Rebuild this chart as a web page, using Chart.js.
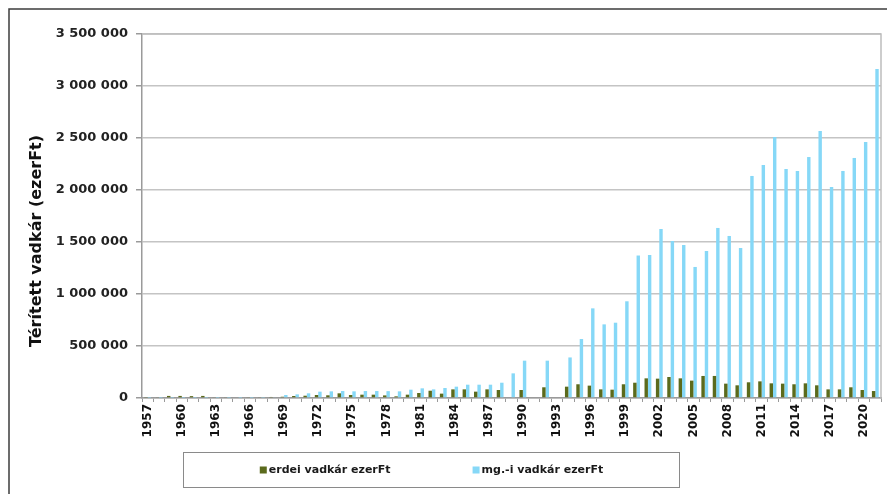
<!DOCTYPE html>
<html>
<head>
<meta charset="utf-8">
<script src="https://cdn.jsdelivr.net/npm/chart.js@4.4.0/dist/chart.umd.min.js"></script>
<style>
  html, body { margin: 0; padding: 0; background: #fff; }
  #wrap { width: 887px; height: 494px; position: relative; }
</style>
</head>
<body>
<div id="wrap"><canvas id="c" width="887" height="494"></canvas></div>
<script>
// Years on the category axis
const years = [
  '1957','1958','1959','1960','1961','1962','1963','1964','1965','1966',
  '1967','1968','1969','1970','1971','1972','1973','1974','1975','1976',
  '1977','1978','1979','1980','1981','1982','1983','1984','1985','1986',
  '1987','1988','1989','1990','1991','1992','1993','1994','1995','1996',
  '1997','1998','1999','2000','2001','2002','2003','2004','2005','2006',
  '2007','2008','2009','2010','2011','2012','2013','2014','2015','2016',
  '2017','2018','2019','2020','2021'
];

// Forest game damage paid (thousand Ft)
const erdeiVadkar = [
  5000, 8000, 20000, 20000, 18000, 20000, 8000, 8000, 7000, 8000,
  8000, 10000, 12000, 19000, 22000, 29000, 26000, 45000, 29000, 32000,
  32000, 25000, 16000, 32000, 48000, 70000, 42000, 83000, 83000, 61000,
  83000, 77000, null, 77000, null, 103000, null, 109000, 132000, 119000,
  83000, 80000, 132000, 147000, 189000, 186000, 202000, 189000, 167000, 212000,
  212000, 138000, 122000, 151000, 160000, 141000, 138000, 132000, 141000, 122000,
  83000, 83000, 103000, 77000, 67000
];

// Agricultural game damage paid (thousand Ft)
const mgVadkar = [
  3000, 3000, 3000, 3000, 3000, 3000, 3000, 3000, 3000, 3000,
  4000, 8000, 29000, 35000, 45000, 61000, 64000, 67000, 64000, 67000,
  67000, 66000, 64000, 80000, 93000, 83000, 96000, 109000, 128000, 128000,
  128000, 147000, 237000, 359000, null, 359000, null, 390000, 567000, 862000,
  708000, 724000, 930000, 1370000, 1375000, 1625000, 1510000, 1471000, 1260000, 1413000,
  1635000, 1558000, 1442000, 2135000, 2240000, 2510000, 2202000, 2183000, 2317000, 2567000,
  2029000, 2183000, 2308000, 2461000, 3163000
];

const seriesNames = ['erdei vadkár ezerFt', 'mg.-i vadkár ezerFt'];
const seriesColors = ['#5b6a1c', '#86d8f7'];
const yTitle = 'Térített vadkár (ezerFt)';

const FONT = "'DejaVu Sans', sans-serif";

function spaced(v) {
  return String(v).replace(/\B(?=(\d{3})+(?!\d))/g, ' ');
}

// Outer frame and the plot area's top/right edges
const framePlugin = {
  id: 'frame',
  afterDraw(chart) {
    const { ctx, chartArea } = chart;
    ctx.save();
    ctx.strokeStyle = '#3c3c3c';
    ctx.lineWidth = 1.5;
    ctx.beginPath();
    ctx.moveTo(9, 494);
    ctx.lineTo(9, 9);
    ctx.lineTo(887, 9);
    ctx.stroke();

    ctx.strokeStyle = '#bdbdbd';
    ctx.lineWidth = 1.5;
    ctx.beginPath();
    ctx.moveTo(chartArea.left, chartArea.top);
    ctx.lineTo(chartArea.right, chartArea.top);
    ctx.lineTo(chartArea.right, chartArea.bottom);
    ctx.stroke();
    ctx.restore();
  }
};

// Rotated y-axis title
const yTitlePlugin = {
  id: 'yTitle',
  afterDraw(chart) {
    const ctx = chart.ctx;
    ctx.save();
    ctx.translate(37, 241);
    ctx.rotate(-Math.PI / 2);
    ctx.font = `bold 16px ${FONT}`;
    ctx.fillStyle = '#111';
    ctx.textAlign = 'center';
    ctx.textBaseline = 'middle';
    ctx.fillText(yTitle, 0, 0);
    ctx.restore();
  }
};

// Boxed legend under the axis labels
const legendPlugin = {
  id: 'boxLegend',
  afterDraw(chart) {
    const ctx = chart.ctx;
    const box = { x: 183.5, y: 452.5, w: 496, h: 35 };
    ctx.save();
    ctx.strokeStyle = '#8a8a8a';
    ctx.lineWidth = 1;
    ctx.strokeRect(box.x, box.y, box.w, box.h);

    ctx.font = `bold 11px ${FONT}`;
    ctx.textBaseline = 'middle';
    ctx.textAlign = 'left';
    const mark = 7, markGap = 2, itemGap = 82;
    const ds = chart.data.datasets;
    const widths = ds.map(d => mark + markGap + ctx.measureText(d.label).width);
    const total = widths.reduce((a, b) => a + b, 0) + itemGap * (ds.length - 1);
    let x = box.x + box.w / 2 - total / 2;
    const cy = box.y + box.h / 2;
    ds.forEach((d, i) => {
      ctx.fillStyle = d.backgroundColor;
      ctx.fillRect(x, cy - mark / 2, mark, mark);
      ctx.fillStyle = '#1a1a1a';
      ctx.fillText(d.label, x + mark + markGap, cy);
      x += widths[i] + itemGap;
    });
    ctx.restore();
  }
};

new Chart(document.getElementById('c'), {
  type: 'bar',
  data: {
    labels: years,
    datasets: [
      { label: seriesNames[0], data: erdeiVadkar, backgroundColor: seriesColors[0],
        barPercentage: 1, categoryPercentage: 0.6 },
      { label: seriesNames[1], data: mgVadkar, backgroundColor: seriesColors[1],
        barPercentage: 1, categoryPercentage: 0.6 }
    ]
  },
  options: {
    responsive: false,
    animation: false,
    layout: { padding: { top: 34, right: 6, left: 0, bottom: 0 } },
    plugins: {
      legend: { display: false },
      tooltip: { enabled: false }
    },
    scales: {
      x: {
        grid: { display: true, drawOnChartArea: false, drawTicks: true, tickLength: 4,
                color: '#9a9a9a', lineWidth: 1, offset: true },
        border: { color: '#9a9a9a', width: 1.5 },
        ticks: {
          autoSkip: false, maxRotation: 90, minRotation: 90, padding: 2,
          color: '#111',
          font: { family: FONT, size: 12, weight: 'bold' },
          callback: (v, i) => (i % 3 === 0 ? years[i] : '')
        },
        afterFit(scale) {
          scale.height = 96;
          scale.paddingLeft = 0;
          scale.paddingRight = 0;
        }
      },
      y: {
        min: 0,
        max: 3500000,
        grid: { color: '#c4c4c4', lineWidth: 1.5, tickLength: 6, tickColor: '#9a9a9a' },
        border: { color: '#9a9a9a', width: 1.5 },
        ticks: {
          stepSize: 500000, padding: 8, color: '#222',
          font: { family: FONT, size: 13, weight: 'bold' },
          callback: v => spaced(v)
        },
        afterFit(scale) { scale.width = 142; }
      }
    }
  },
  plugins: [framePlugin, yTitlePlugin, legendPlugin]
});
</script>
</body>
</html>
